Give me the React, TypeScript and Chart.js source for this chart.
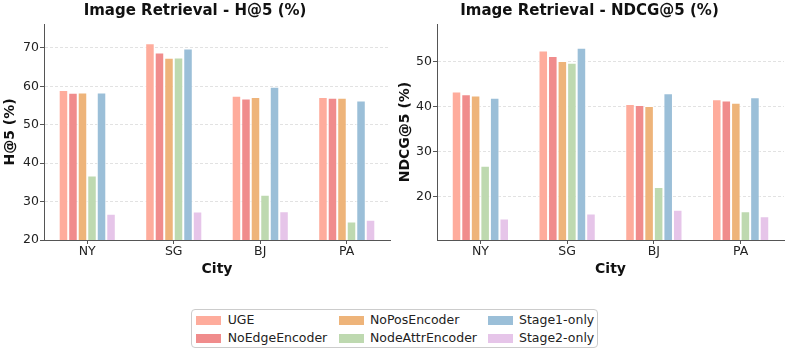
import React, { useEffect, useRef } from "react";
import { Chart, registerables } from "chart.js";

Chart.register(...registerables);

const categories = ["NY", "SG", "BJ", "PA"];
const seriesNames = ["UGE", "NoEdgeEncoder", "NoPosEncoder", "NodeAttrEncoder", "Stage1-only", "Stage2-only"];
const seriesColors = ["#FEAC9C", "#F08C8C", "#EEB47A", "#BED9B0", "#9BBFD8", "#E6C5E9"];

// H@5 (%)
const h5UGE = [59.0, 71.2, 57.5, 57.2];
const h5NoEdge = [58.3, 68.8, 56.8, 57.0];
const h5NoPos = [58.4, 67.4, 57.2, 57.0];
const h5NodeAttr = [36.8, 67.5, 31.8, 24.8];
const h5Stage1 = [58.4, 69.8, 59.9, 56.3];
const h5Stage2 = [26.8, 27.4, 27.5, 25.3];
const h5Ticks = [20, 30, 40, 50, 60, 70];

// NDCG@5 (%)
const ndcgUGE = [43.3, 52.4, 40.5, 41.6];
const ndcgNoEdge = [42.7, 51.2, 40.3, 41.3];
const ndcgNoPos = [42.4, 50.1, 40.1, 40.8];
const ndcgNodeAttr = [26.8, 49.7, 22.1, 16.7];
const ndcgStage1 = [41.9, 53.0, 42.9, 42.0];
const ndcgStage2 = [15.1, 16.2, 17.0, 15.6];
const ndcgTicks = [20, 30, 40, 50];

const FONT = "'DejaVu Sans', sans-serif";

function makeConfig(
  title: string,
  yLabel: string,
  series: number[][],
  yMin: number,
  yMax: number,
  ticks: number[],
  yWidth: number
): any {
  return {
    type: "bar",
    data: {
      labels: categories,
      datasets: series.map((vals, i) => ({
        label: seriesNames[i],
        data: vals,
        backgroundColor: seriesColors[i],
        borderColor: "#ffffff",
        borderWidth: 1,
        categoryPercentage: 0.66,
        barPercentage: 1.0,
      })),
    },
    options: {
      animation: false,
      responsive: false,
      maintainAspectRatio: false,
      layout: { padding: { left: 0, right: 5, top: 0, bottom: 0 } },
      plugins: {
        legend: { display: false },
        tooltip: { enabled: false },
        title: {
          display: true,
          text: title,
          color: "#111",
          font: { family: FONT, size: 15, weight: "bold" },
          padding: { top: 2, bottom: 4 },
        },
      },
      scales: {
        x: {
          offset: true,
          grid: {
            offset: false,
            drawOnChartArea: false,
            drawTicks: true,
            tickLength: 4,
            tickColor: "#555",
            tickWidth: 1,
          },
          border: { color: "#555", width: 1 },
          ticks: {
            color: "#222",
            padding: 0,
            font: { family: FONT, size: 12.5 },
            maxRotation: 0,
          },
          title: {
            display: true,
            text: "City",
            color: "#111",
            font: { family: FONT, size: 14, weight: "bold" },
            padding: { top: 2, bottom: 12 },
          },
          afterFit: (s: any) => {
            s.height = 50;
          },
        },
        y: {
          min: yMin,
          max: yMax,
          afterBuildTicks: (s: any) => {
            s.ticks = ticks.map((v) => ({ value: v }));
          },
          grid: {
            color: "#e2e2e2",
            lineWidth: 1,
            drawTicks: true,
            tickLength: 4,
            tickColor: "#555",
            tickWidth: 1,
            tickBorderDash: [],
          },
          border: { color: "#555", width: 1, dash: [3, 2] },
          ticks: {
            color: "#222",
            padding: 1,
            font: { family: FONT, size: 12.5 },
          },
          title: {
            display: true,
            text: yLabel,
            color: "#111",
            font: { family: FONT, size: 14, weight: "bold" },
            padding: { top: 2, bottom: 2 },
          },
          afterFit: (s: any) => {
            s.width = yWidth;
          },
        },
      },
    },
  };
}

function BarChart(props: { config: any; width: number; height: number; left: number }) {
  const ref = useRef<HTMLCanvasElement | null>(null);
  useEffect(() => {
    if (!ref.current) return;
    const chart = new Chart(ref.current, props.config);
    return () => chart.destroy();
  }, []);
  return (
    <canvas
      ref={ref}
      width={props.width}
      height={props.height}
      style={{ position: "absolute", left: props.left, top: 0, width: props.width, height: props.height }}
    />
  );
}

const legendCols = [
  { patchX: 4, textX: 35.7 },
  { patchX: 146.7, textX: 178 },
  { patchX: 295.7, textX: 327 },
];
const legendRows = [10, 28.3];

function Legend() {
  return (
    <div
      style={{
        position: "absolute",
        left: 191,
        top: 309,
        width: 405,
        height: 37,
        border: "1px solid #cccccc",
        borderRadius: 4,
        background: "#fff",
        fontFamily: FONT,
        fontSize: 12.5,
        color: "#222",
      }}
    >
      {seriesNames.map((name, i) => {
        const col = legendCols[Math.floor(i / 2)];
        const rowY = legendRows[i % 2];
        return (
          <React.Fragment key={name}>
            <div
              style={{
                position: "absolute",
                left: col.patchX,
                top: rowY - 4.5,
                width: 25,
                height: 9,
                background: seriesColors[i],
              }}
            />
            <div
              style={{
                position: "absolute",
                left: col.textX,
                top: rowY - 8,
                height: 16,
                lineHeight: "16px",
                whiteSpace: "nowrap",
              }}
            >
              {name}
            </div>
          </React.Fragment>
        );
      })}
    </div>
  );
}

export default function App() {
  const leftCfg = makeConfig(
    "Image Retrieval - H@5 (%)",
    "H@5 (%)",
    [h5UGE, h5NoEdge, h5NoPos, h5NodeAttr, h5Stage1, h5Stage2],
    20,
    76.2,
    h5Ticks,
    44
  );
  const rightCfg = makeConfig(
    "Image Retrieval - NDCG@5 (%)",
    "NDCG@5 (%)",
    [ndcgUGE, ndcgNoEdge, ndcgNoPos, ndcgNodeAttr, ndcgStage1, ndcgStage2],
    10.3,
    58.3,
    ndcgTicks,
    42
  );
  return (
    <div
      style={{
        position: "fixed",
        left: 0,
        top: 0,
        width: 789,
        height: 354,
        background: "#fff",
        overflow: "hidden",
      }}
    >
      <BarChart config={leftCfg} width={395} height={290} left={0} />
      <BarChart config={rightCfg} width={394} height={290} left={395} />
      <Legend />
    </div>
  );
}
